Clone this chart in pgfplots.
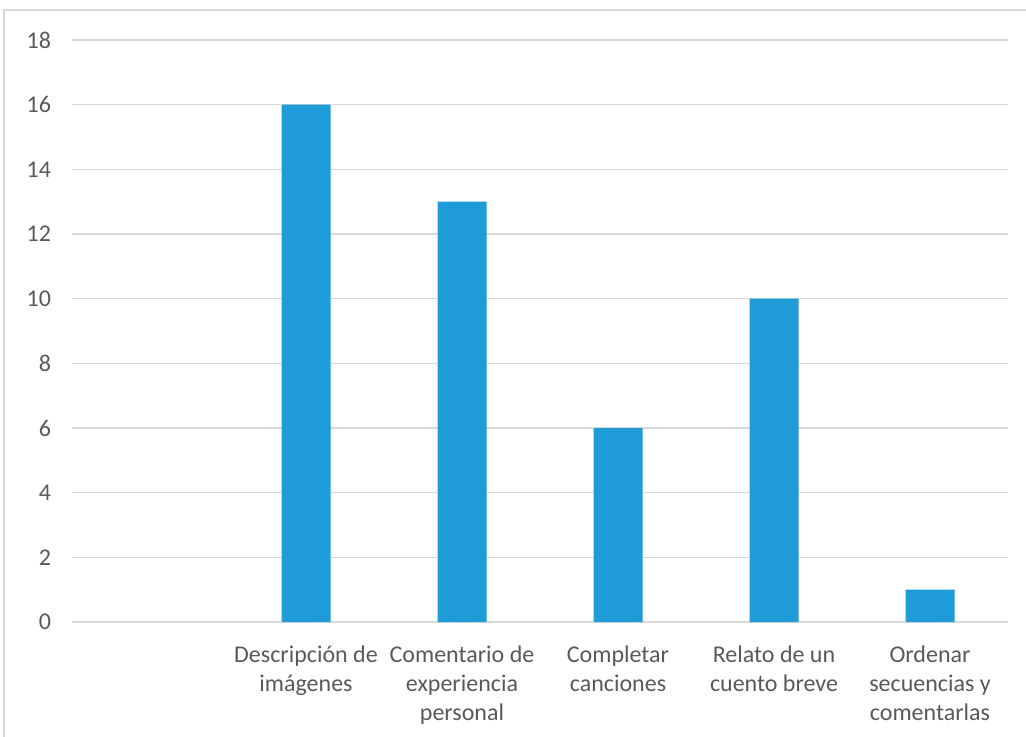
\documentclass[border=0pt]{standalone}
\usepackage{fontspec}
\setmainfont{Carlito}
\usepackage{pgfplots}
\pgfplotsset{compat=1.18}

\definecolor{barblue}{HTML}{1F9BD7}
\definecolor{gridgray}{HTML}{D9D9D9}
\definecolor{textgray}{HTML}{595959}

\begin{document}
\begin{tikzpicture}
\path[use as bounding box] (0,0) rectangle (513pt,368pt);
\draw[gridgray, line width=0.6pt] (2pt,-10pt) rectangle (530pt,363pt);
\begin{axis}[
    at={(36pt,57pt)}, anchor=south west,
    scale only axis,
    width=468pt, height=291pt,
    xmin=-0.5, xmax=5.5,
    ymin=0, ymax=18,
    ytick={0,2,...,18},
    xtick={1,2,3,4,5},
    xticklabels={Descripción de\\imágenes, Comentario de\\experiencia\\personal, Completar\\canciones, Relato de un\\cuento breve, Ordenar\\secuencias y\\comentarlas},
    xticklabel style={align=center, font=\fontsize{12pt}{14.5pt}\selectfont, text=textgray, yshift=-8.5pt},
    yticklabel style={font=\fontsize{12pt}{14.5pt}\selectfont, text=textgray, xshift=-7pt},
    /pgf/number format/assume math mode=true,
    axis line style={draw=none},
    axis x line*=bottom,
    major tick length=0pt,
    ymajorgrids, grid style={gridgray, line width=0.6pt},
    extra y ticks={0}, extra y tick labels={},
    extra y tick style={grid style={gridgray, line width=1pt}},
    ybar, bar width=24.5pt,
    clip=false,
]
\addplot[fill=barblue, draw=none] coordinates {(1,16) (2,13) (3,6) (4,10) (5,1)};
\end{axis}
\end{tikzpicture}
\end{document}
